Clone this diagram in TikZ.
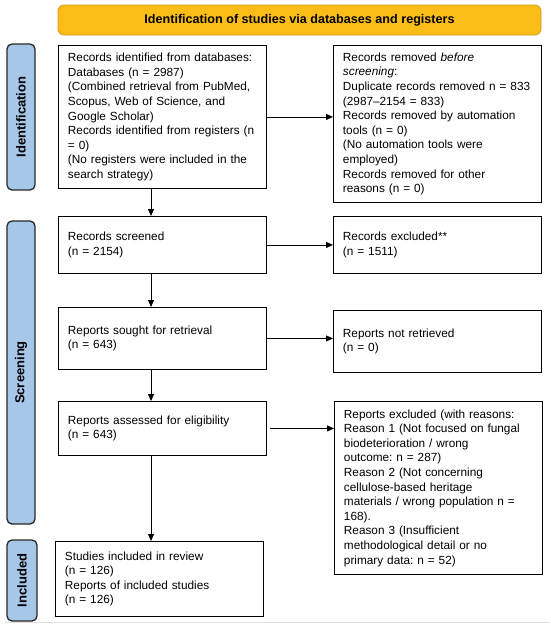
\documentclass[tikz,border=0pt]{standalone}
\usepackage{fontspec}
\setmainfont{Liberation Sans}
\frenchspacing
\usetikzlibrary{arrows.meta}
\definecolor{bannerfill}{RGB}{250,188,22}
\definecolor{bannerdraw}{RGB}{210,155,30}
\definecolor{labfill}{RGB}{166,199,232}
\definecolor{labdraw}{RGB}{40,40,40}
\tikzset{
  pbox/.style={draw=black, line width=0.9pt, anchor=north west, inner xsep=9.5pt, inner ysep=1pt,
    text width=189pt, align=left, font=\fontsize{11.8pt}{14.6pt}\selectfont},
  sidelab/.style={draw=labdraw, fill=labfill, line width=1.3pt, rounded corners=5pt, rotate=90,
    inner sep=0pt, font=\bfseries\fontsize{13pt}{15pt}\selectfont},
  arr/.style={draw=black, line width=0.8pt, -{Triangle[length=7pt,width=6pt]}}
}
\begin{document}
\begin{tikzpicture}[x=1pt,y=-1pt]
\useasboundingbox (0,0) rectangle (550,627);
% banner
\node[draw=bannerdraw, fill=bannerfill, line width=0.8pt, rounded corners=6pt, minimum width=483pt, minimum height=30pt,
  inner sep=0pt, font=\bfseries\fontsize{12.6pt}{15pt}\selectfont] (banner) at (299.5,20) {Identification of studies via databases and registers};
% side labels
\node[sidelab, minimum width=146pt, minimum height=28pt] (lid) at (21,117) {Identification};
\node[sidelab, minimum width=303pt, minimum height=28pt] (lscr) at (21,372.5) {Screening};
\node[sidelab, minimum width=81pt, minimum height=30pt] (linc) at (22,580.5) {Included};
% boxes
\node[pbox, minimum height=143pt] (b1) at (58,45) {Records identified from databases:\\
Databases (n = 2987)\\
(Combined retrieval from PubMed,\\
Scopus, Web of Science, and\\
Google Scholar)\\
Records identified from registers (n\\
= 0)\\
(No registers were included in the\\
search strategy)};
\node[pbox, minimum height=157pt] (b2) at (333,45) {Records removed \textit{before}\\
\textit{screening}:\\
Duplicate records removed n = 833\\
(2987–2154 = 833)\\
Records removed by automation\\
tools (n = 0)\\
(No automation tools were\\
employed)\\
Records removed for other\\
reasons (n = 0)};
\node[pbox, minimum height=57pt] (b3) at (58,216) {Records screened\\(n = 2154)};
\node[pbox, minimum height=57pt] (b4) at (333,216) {Records excluded**\\(n = 1511)};
\node[pbox, minimum height=62pt] (b5) at (58,307) {Reports sought for retrieval\\(n = 643)};
\node[pbox, minimum height=62pt] (b6) at (333,310) {Reports not retrieved\\(n = 0)};
\node[pbox, minimum height=54pt] (b7) at (58,401) {Reports assessed for eligibility\\(n = 643)};
\node[pbox, minimum height=173pt] (b8) at (334,401) {Reports excluded (with reasons:\\
Reason 1 (Not focused on fungal\\
biodeterioration / wrong\\
outcome: n = 287)\\
Reason 2 (Not concerning\\
cellulose-based heritage\\
materials / wrong population n =\\
168).\\
Reason 3 (Insufficient\\
methodological detail or no\\
primary data: n = 52)};
\node[pbox, minimum height=75pt] (b9) at (55,541) {Studies included in review\\
(n = 126)\\
Reports of included studies\\
(n = 126)};
% connectors
\coordinate (vx) at (151,0);
\draw[arr] (b1.south -| vx) -- (b3.north -| vx);
\draw[arr] (b3.south -| vx) -- (b5.north -| vx);
\draw[arr] (b5.south -| vx) -- (b7.north -| vx);
\draw[arr] (b7.south -| vx) -- (b9.north -| vx);
\draw[arr] (b1.east) -- (b2.west |- b1.east);
\draw[arr] (b3.east) -- (b4.west |- b3.east);
\draw[arr] (b5.east) -- (b6.west |- b5.east);
\draw[arr] ([xshift=3pt]b7.east) -- (b8.west |- b7.east);
% faint rule at the bottom
\coordinate (rl) at (5,622);
\coordinate (rr) at (550,622);
\draw[black!12, line width=1pt] (rl) -- (rr);
\end{tikzpicture}
\end{document}
